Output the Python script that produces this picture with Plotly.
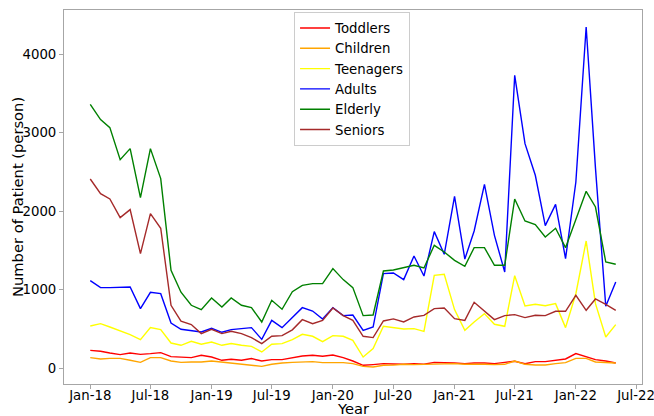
import pandas as pd
import plotly.graph_objects as go

months = pd.date_range("2018-01-01", periods=53, freq="MS")

toddlers = [229, 217, 195, 174, 195, 178, 187, 200, 149, 146, 136, 166, 144, 102, 115, 102, 124, 93, 110, 110,
            136, 157, 166, 153, 170, 136, 93, 38, 47, 59, 55, 51, 59, 51, 76, 76, 68, 59, 68, 68,
            59, 76, 89, 59, 85, 85, 102, 119, 187, 144, 110, 93, 68]
children = [136, 119, 127, 127, 102, 76, 136, 136, 93, 75, 80, 80, 93, 80, 59, 51, 38, 25, 51, 68,
            75, 80, 85, 72, 76, 72, 59, 25, 17, 38, 40, 51, 47, 51, 59, 63, 59, 51, 55, 51,
            47, 51, 93, 51, 42, 42, 59, 72, 127, 127, 80, 76, 68]
teenagers = [539, 569, 526, 475, 429, 365, 518, 493, 322, 293, 344, 306, 335, 293, 315, 293, 280, 208, 306, 315,
             365, 433, 408, 340, 416, 408, 357, 144, 251, 535, 518, 501, 505, 471, 1185, 1197, 748, 484, 590, 697,
             561, 535, 1180, 794, 815, 798, 824, 518, 950, 1622, 824, 399, 556]
adults = [1117, 1028, 1028, 1028, 1035, 760, 968, 951, 577, 497, 475, 463, 510, 459, 493, 510, 518, 369, 611, 518,
          650, 773, 730, 628, 773, 671, 679, 484, 526, 1206, 1214, 1130, 1431, 1176, 1741, 1452, 2191, 1392, 1750, 2344,
          1694, 1227, 3733, 2862, 2459, 1818, 2089, 1398, 2374, 4348, 2550, 790, 1100]
elderly = [3363, 3168, 3066, 2659, 2799, 2175, 2799, 2417, 1248, 970, 803, 748, 896, 781, 896, 803, 773, 590, 866, 752,
           976, 1057, 1079, 1079, 1270, 1130, 1028, 671, 679, 1240, 1252, 1278, 1312, 1278, 1567, 1482, 1376, 1300, 1538, 1538,
           1312, 1312, 2157, 1877, 1830, 1673, 1784, 1537, 1894, 2255, 2055, 1354, 1325]
seniors = [2412, 2225, 2157, 1920, 2022, 1461, 1971, 1784, 803, 600, 557, 442, 497, 442, 471, 442, 391, 315, 408, 416,
           490, 620, 569, 611, 769, 671, 611, 408, 391, 603, 630, 590, 654, 675, 760, 769, 633, 611, 841, 730,
           620, 671, 684, 646, 675, 671, 726, 726, 930, 739, 883, 815, 739]

series_names = ["Toddlers", "Children", "Teenagers", "Adults", "Elderly", "Seniors"]
series_values = [toddlers, children, teenagers, adults, elderly, seniors]
series_colors = ["red", "orange", "yellow", "blue", "green", "brown"]

x_tick_vals = pd.date_range("2018-01-01", "2022-07-01", freq="6MS")
x_tick_text = [d.strftime("%b-%y") for d in x_tick_vals]
y_tick_vals = [0, 1000, 2000, 3000, 4000]

fig = go.Figure()
for name, vals, col in zip(series_names, series_values, series_colors):
    fig.add_trace(go.Scatter(x=months, y=vals, mode="lines", name=name,
                             line=dict(color=col, width=1.4)))

axis_common = dict(showline=True, mirror=True, linecolor="#a6a6a6", linewidth=1,
                   ticks="outside", ticklen=4, tickcolor="#a6a6a6", showgrid=False,
                   zeroline=False, tickfont=dict(size=13.3, color="black"),
                   ticklabeloverflow="allow")

fig.update_layout(
    width=654, height=416,
    margin=dict(l=64, r=12, t=10, b=32),
    paper_bgcolor="white", plot_bgcolor="white",
    font=dict(family="DejaVu Sans", color="black"),
    xaxis=dict(range=["2017-10-14", "2022-07-19"], tickvals=x_tick_vals, ticktext=x_tick_text,
               automargin=False, ticklabelstandoff=-5, **axis_common),
    yaxis=dict(range=[-200, 4565], tickvals=y_tick_vals, automargin=False, **axis_common),
    legend=dict(x=0.398, y=0.995, xanchor="left", yanchor="top", bgcolor="white",
                bordercolor="#cccccc", borderwidth=1, font=dict(size=13.3)),
    showlegend=True,
    annotations=[
        dict(text="Year", xref="paper", yref="paper", x=0.5, y=0, xanchor="center",
             yanchor="middle", yshift=-24, showarrow=False, font=dict(size=14.7)),
        dict(text="Number of Patient (person)", xref="paper", yref="paper", x=0, y=0.5,
             xanchor="center", yanchor="middle", xshift=-47, textangle=-90,
             showarrow=False, font=dict(size=14.7)),
    ],
)

fig.write_html("out.html", config={"displayModeBar": False},
               post_script="document.body.style.margin='0px';")
